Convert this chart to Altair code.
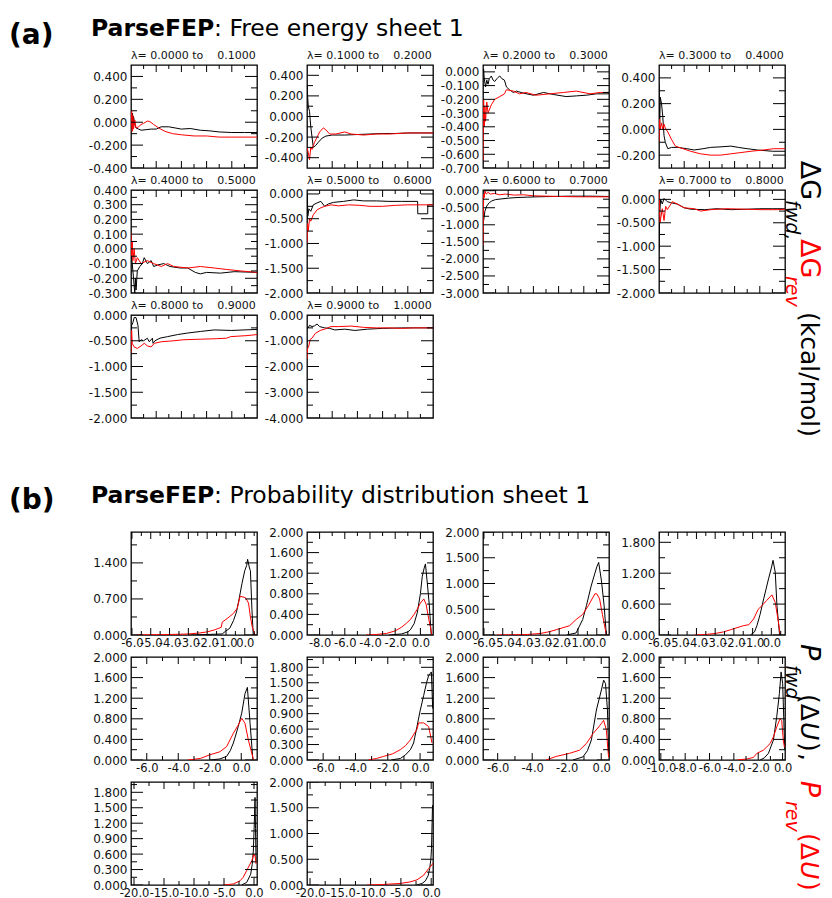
import altair as alt
import pandas as pd

FONT = "DejaVu Sans"
TXT = "#111111"
NB = "\u00a0"
PW, PH = 126, 103
YMAJ_T, YMIN_T, XMAJ_T, XMIN_T = 12, 6, 7, 4

# ---------------- (a) free energy: cumulative dG vs sample (% of window) ----------------
lam_lo = [0.0, 0.1, 0.2, 0.3, 0.4, 0.5, 0.6, 0.7, 0.8, 0.9]
lam_hi = [0.1, 0.2, 0.3, 0.4, 0.5, 0.6, 0.7, 0.8, 0.9, 1.0]
a_xdom = [0, 100]
a_xmaj = [20, 40, 60, 80]
a_xmin = [10, 30, 50, 70, 90]
a_ydom = [[-0.4, 0.5], [-0.5, 0.5], [-0.7, 0.05], [-0.3, 0.5], [-0.3, 0.4],
          [-2.0, 0.08], [-3.0, 0.02], [-2.0, 0.2], [-2.0, 0.0], [-4.0, 0.0]]
a_ymaj = [[-0.4, -0.2, 0.0, 0.2, 0.4], [-0.4, -0.2, 0.0, 0.2, 0.4],
          [-0.7, -0.6, -0.5, -0.4, -0.3, -0.2, -0.1, 0.0], [-0.2, 0.0, 0.2, 0.4],
          [-0.3, -0.2, -0.1, 0.0, 0.1, 0.2, 0.3, 0.4], [-2.0, -1.5, -1.0, -0.5, 0.0],
          [-3.0, -2.5, -2.0, -1.5, -1.0, -0.5, 0.0], [-2.0, -1.5, -1.0, -0.5, 0.0],
          [-2.0, -1.5, -1.0, -0.5, 0.0], [-4.0, -3.0, -2.0, -1.0, 0.0]]
a_ymin = [[-0.3, -0.1, 0.1, 0.3], [-0.3, -0.1, 0.1, 0.3],
          [-0.65, -0.55, -0.45, -0.35, -0.25, -0.15, -0.05], [-0.1, 0.1, 0.3],
          [-0.25, -0.15, -0.05, 0.05, 0.15, 0.25, 0.35], [-1.75, -1.25, -0.75, -0.25],
          [-2.75, -2.25, -1.75, -1.25, -0.75, -0.25], [-1.75, -1.25, -0.75, -0.25],
          [-1.75, -1.25, -0.75, -0.25], [-3.5, -2.5, -1.5, -0.5]]

a1_fwd_x = [0, 0.5, 1, 1.5, 2, 3, 4, 6, 8, 12, 16, 20, 24, 30, 35, 40, 47, 55, 62, 70, 80, 90, 100]
a1_fwd_y = [0.1, -0.05, 0.08, -0.03, 0.05, -0.02, -0.05, -0.06, -0.07, -0.065, -0.06, -0.06, -0.04, -0.04, -0.05, -0.06, -0.055, -0.07, -0.075, -0.085, -0.09, -0.09, -0.09]
a1_rev_x = [0, 0.5, 1, 1.5, 2, 3, 4, 6, 8, 10, 13, 15, 18, 22, 27, 33, 40, 50, 60, 70, 80, 100]
a1_rev_y = [-0.05, 0.1, -0.08, 0.06, -0.06, 0.02, -0.05, -0.04, -0.02, -0.01, 0.01, 0.005, -0.02, -0.05, -0.08, -0.1, -0.11, -0.12, -0.12, -0.13, -0.13, -0.13]

a2_fwd_x = [0, 1, 2, 3, 5, 7, 9, 12, 15, 20, 30, 40, 50, 60, 70, 80, 90, 100]
a2_fwd_y = [0.3, 0.1, 0.05, -0.1, -0.3, -0.28, -0.25, -0.21, -0.19, -0.18, -0.18, -0.175, -0.17, -0.165, -0.165, -0.16, -0.16, -0.16]
a2_rev_x = [0, 1, 2, 3, 4, 6, 8, 10, 13, 15, 18, 23, 30, 35, 45, 55, 65, 80, 100]
a2_rev_y = [-0.3, -0.35, -0.42, -0.3, -0.32, -0.25, -0.2, -0.15, -0.11, -0.13, -0.17, -0.17, -0.15, -0.17, -0.18, -0.17, -0.17, -0.16, -0.16]

a3_fwd_x = [0, 0.5, 1, 2, 3, 4, 5, 6.6, 8, 9.3, 11, 12, 13.3, 15, 17, 18.6, 21, 24, 26.5, 32, 40, 48, 56, 66, 74, 82, 90, 100]
a3_fwd_y = [-0.01, 0.02, -0.05, -0.11, -0.06, -0.09, -0.05, -0.03, -0.06, -0.07, -0.05, -0.04, -0.03, -0.05, -0.06, -0.11, -0.13, -0.15, -0.14, -0.155, -0.17, -0.15, -0.165, -0.18, -0.175, -0.17, -0.16, -0.16]
a3_rev_x = [0, 0.5, 1, 1.5, 2, 3, 4, 6.6, 9.3, 13.3, 17, 18.6, 24, 29, 34, 42, 53, 64, 74, 85, 93, 100]
a3_rev_y = [-0.65, -0.2, -0.4, -0.25, -0.36, -0.22, -0.3, -0.24, -0.2, -0.18, -0.16, -0.13, -0.14, -0.16, -0.15, -0.17, -0.16, -0.15, -0.14, -0.16, -0.15, -0.15]

a4_fwd_x = [0, 0.5, 1, 2, 3, 4, 5, 7, 10, 15, 22, 28, 35, 41, 50, 57, 63, 70, 78, 90, 100]
a4_fwd_y = [0.35, 0.0, 0.25, 0.2, 0.1, -0.05, -0.1, -0.15, -0.14, -0.14, -0.15, -0.16, -0.15, -0.14, -0.135, -0.13, -0.14, -0.15, -0.16, -0.17, -0.17]
a4_rev_x = [0, 0.5, 1, 2, 3, 4, 5, 7, 10, 13, 19, 25, 33, 41, 49, 57, 65, 73, 83, 91, 100]
a4_rev_y = [-0.1, 0.08, 0.0, 0.05, 0.0, 0.04, 0.01, -0.02, -0.08, -0.13, -0.15, -0.17, -0.19, -0.2, -0.2, -0.19, -0.18, -0.17, -0.16, -0.15, -0.15]

a5_fwd_x = [0, 1, 2, 3, 3.5, 4, 5, 7, 9, 10.5, 13, 16, 18, 21, 26, 31, 39, 45, 51, 55, 60, 71, 82, 100]
a5_fwd_y = [0.0, -0.1, -0.2, -0.3, -0.2, -0.28, -0.15, -0.12, -0.1, -0.06, -0.1, -0.08, -0.12, -0.11, -0.1, -0.12, -0.13, -0.13, -0.16, -0.17, -0.16, -0.165, -0.155, -0.16]
a5_rev_x = [0, 0.5, 1, 1.5, 2.5, 3.5, 5, 8, 13, 18, 24, 29, 34, 45, 55, 66, 76, 87, 100]
a5_rev_y = [0.11, -0.05, 0.05, -0.08, 0.0, -0.1, -0.06, -0.1, -0.08, -0.1, -0.12, -0.1, -0.12, -0.13, -0.12, -0.13, -0.14, -0.15, -0.16]

a6_fwd_x = [0, 0.3, 0.6, 1.5, 3, 5, 8, 11, 14, 17, 21, 29, 37, 45, 55, 65, 75, 87.8, 87.9, 95.8, 95.9, 100]
a6_fwd_y = [-0.5, 0.0, -0.45, -0.3, -0.35, -0.22, -0.18, -0.15, -0.25, -0.2, -0.17, -0.15, -0.12, -0.14, -0.14, -0.15, -0.15, -0.15, -0.4, -0.4, -0.22, -0.22]
a6_rev_x = [0, 0.5, 1, 2, 3, 5, 8, 11, 14, 19, 25, 33, 42, 50, 60, 70, 80, 100]
a6_rev_y = [-1.0, -0.6, -0.75, -0.5, -0.55, -0.42, -0.32, -0.28, -0.25, -0.22, -0.24, -0.22, -0.23, -0.25, -0.25, -0.23, -0.22, -0.22]

a7_fwd_x = [0, 1, 1.5, 3, 5, 7, 10, 15, 20, 27, 35, 43, 55, 70, 85, 100]
a7_fwd_y = [-1.0, -0.75, -0.6, -0.45, -0.35, -0.3, -0.26, -0.24, -0.22, -0.2, -0.19, -0.18, -0.17, -0.16, -0.16, -0.17]
a7_rev_x = [0, 0.5, 1, 1.5, 2.5, 4, 6, 9, 13, 18, 25, 32, 40, 50, 60, 75, 90, 100]
a7_rev_y = [-1.6, -0.1, -0.2, 0.0, -0.1, -0.05, -0.1, -0.08, -0.12, -0.1, -0.13, -0.12, -0.15, -0.16, -0.17, -0.18, -0.18, -0.18]

a8_fwd_x = [0, 0.6, 1.3, 2.6, 4, 6.6, 9.3, 14.5, 20, 25, 36, 46, 57, 70, 80, 90, 100]
a8_fwd_y = [-1.1, -0.3, 0.0, -0.1, 0.02, -0.05, -0.07, -0.1, -0.18, -0.21, -0.22, -0.2, -0.22, -0.21, -0.2, -0.2, -0.2]
a8_rev_x = [0, 0.8, 2.6, 4, 5.3, 6.6, 10.6, 14.5, 20, 28, 33, 41, 54, 68, 81, 94, 100]
a8_rev_y = [0.15, -0.5, -0.2, -0.45, -0.15, -0.22, -0.05, -0.1, -0.18, -0.2, -0.25, -0.22, -0.2, -0.21, -0.22, -0.22, -0.21]

a9_fwd_x = [0, 0.5, 1.5, 2.5, 4, 5.5, 6.5, 8, 10, 13, 14.5, 17, 17.5, 19, 23, 29, 37, 45, 55, 66, 80, 100]
a9_fwd_y = [-0.75, -0.2, -0.15, -0.05, -0.05, -0.2, -0.52, -0.48, -0.5, -0.45, -0.52, -0.45, -0.55, -0.5, -0.45, -0.42, -0.38, -0.35, -0.32, -0.29, -0.3, -0.28]
a9_rev_x = [0, 0.5, 1, 2.5, 5, 8, 10.5, 13, 16, 18.5, 24, 34, 42, 55, 68, 76, 79, 92, 100]
a9_rev_y = [-0.75, -0.3, -0.55, -0.62, -0.65, -0.6, -0.55, -0.6, -0.62, -0.55, -0.52, -0.5, -0.48, -0.47, -0.46, -0.45, -0.42, -0.4, -0.38]

a10_fwd_x = [0, 1, 2, 4, 6, 8, 10, 14, 18, 22, 30, 38, 48, 60, 75, 90, 100]
a10_fwd_y = [-0.45, -0.5, -0.4, -0.45, -0.42, -0.35, -0.45, -0.5, -0.52, -0.58, -0.55, -0.6, -0.55, -0.52, -0.5, -0.5, -0.5]
a10_rev_x = [0, 0.5, 1.5, 2.5, 4, 6.5, 10.5, 14, 19, 25, 35, 45, 55, 65, 75, 85, 100]
a10_rev_y = [-1.7, -1.3, -1.2, -0.95, -0.9, -0.72, -0.6, -0.55, -0.45, -0.45, -0.43, -0.48, -0.5, -0.5, -0.52, -0.5, -0.5]

# ---------------- (b) probability distributions P(dU) ----------------
b_xdom = [[-6.05, 0.65], [-9.0, 1.0], [-6.05, 0.65], [-6.0, 0.73], [-7.0, 1.0],
          [-7.0, 0.8], [-6.85, 0.45], [-10.15, 0.2], [-20.5, 0.5], [-20.5, 0.3]]
b_xmaj = [[-6, -5, -4, -3, -2, -1, 0], [-8, -6, -4, -2, 0], [-6, -5, -4, -3, -2, -1, 0],
          [-6, -5, -4, -3, -2, -1, 0, 1], [-6, -4, -2, 0], [-6, -4, -2, 0], [-6, -4, -2, 0],
          [-10, -8, -6, -4, -2, 0], [-20, -15, -10, -5, 0], [-20, -15, -10, -5, 0]]
b_xmin = [[-5.5, -4.5, -3.5, -2.5, -1.5, -0.5, 0.5], [-7, -5, -3, -1],
          [-5.5, -4.5, -3.5, -2.5, -1.5, -0.5, 0.5], [-5.5, -4.5, -3.5, -2.5, -1.5, -0.5, 0.5],
          [-5, -3, -1], [-5, -3, -1], [-5, -3, -1], [-9, -7, -5, -3, -1],
          [-17.5, -12.5, -7.5, -2.5], [-17.5, -12.5, -7.5, -2.5]]
y_04 = [0.0, 0.4, 0.8, 1.2, 1.6, 2.0]
y_04m = [0.2, 0.6, 1.0, 1.4, 1.8]
y_03 = [0.0, 0.3, 0.6, 0.9, 1.2, 1.5, 1.8]
y_03m = [0.15, 0.45, 0.75, 1.05, 1.35, 1.65, 1.95]
y_05 = [0.0, 0.5, 1.0, 1.5, 2.0]
y_05m = [0.25, 0.75, 1.25, 1.75]
b_ymaj = [[0.0, 0.7, 1.4], y_04, y_05, [0.0, 0.6, 1.2, 1.8], y_04, y_03, y_04, y_04, y_03, y_05]
b_ymin = [[0.35, 1.05, 1.75], y_04m, y_05m, [0.3, 0.9, 1.5], y_04m, y_03m, y_04m, y_04m, y_03m, y_05m]

b1_fwd_x = [-3.0, -2.0, -1.2, -1.0, -0.8, -0.6, -0.44, -0.3, -0.15, 0.0, 0.1, 0.15, 0.25, 0.3, 0.38, 0.45]
b1_fwd_y = [0.0, 0.01, 0.02, 0.08, 0.13, 0.28, 0.45, 0.7, 1.0, 1.25, 1.35, 1.47, 1.3, 1.25, 0.5, 0.0]
b1_rev_x = [-5.8, -5.0, -4.0, -3.0, -2.4, -2.0, -1.6, -1.25, -1.2, -0.9, -0.6, -0.4, -0.25, -0.1, 0.05, 0.2, 0.3, 0.4, 0.55]
b1_rev_y = [0.0, 0.005, 0.01, 0.02, 0.04, 0.06, 0.1, 0.15, 0.25, 0.33, 0.42, 0.52, 0.75, 0.74, 0.72, 0.62, 0.35, 0.15, 0.0]

b2_fwd_x = [-2.5, -1.5, -1.0, -0.8, -0.5, -0.25, 0.0, 0.15, 0.3, 0.4, 0.55, 0.7, 0.86]
b2_fwd_y = [0.0, 0.02, 0.06, 0.1, 0.22, 0.43, 0.8, 1.14, 1.3, 1.38, 1.0, 0.6, 0.0]
b2_rev_x = [-4.3, -3.5, -2.7, -2.0, -1.5, -1.1, -0.8, -0.5, -0.25, 0.0, 0.27, 0.45, 0.67, 0.8, 0.9]
b2_rev_y = [0.0, 0.01, 0.03, 0.08, 0.15, 0.23, 0.3, 0.4, 0.5, 0.62, 0.7, 0.6, 0.3, 0.15, 0.0]

b3_fwd_x = [-1.6, -1.1, -0.75, -0.55, -0.3, -0.1, 0.0, 0.1, 0.25, 0.39, 0.51]
b3_fwd_y = [0.0, 0.04, 0.3, 0.57, 0.95, 1.2, 1.32, 1.41, 1.05, 0.57, 0.0]
b3_rev_x = [-5.3, -4.5, -3.7, -3.0, -2.5, -1.9, -1.45, -1.1, -0.75, -0.45, -0.1, 0.0, 0.15, 0.3, 0.51]
b3_rev_y = [0.0, 0.005, 0.01, 0.03, 0.066, 0.13, 0.18, 0.3, 0.4, 0.57, 0.8, 0.8, 0.7, 0.4, 0.0]

b4_fwd_x = [-1.12, -0.9, -0.77, -0.6, -0.41, -0.15, 0.0, 0.09, 0.21, 0.3, 0.44]
b4_fwd_y = [0.0, 0.06, 0.18, 0.4, 0.7, 1.09, 1.3, 1.45, 1.22, 0.57, 0.0]
b4_rev_x = [-4.1, -3.5, -3.0, -2.55, -2.2, -1.5, -1.2, -0.95, -0.7, -0.5, -0.25, 0.03, 0.21, 0.38, 0.48]
b4_rev_y = [0.0, 0.01, 0.03, 0.06, 0.1, 0.18, 0.2, 0.31, 0.5, 0.57, 0.67, 0.78, 0.63, 0.25, 0.0]

b5_fwd_x = [-2.0, -1.36, -0.93, -0.7, -0.5, -0.19, 0.03, 0.24, 0.39, 0.56, 0.74]
b5_fwd_y = [0.0, 0.02, 0.07, 0.18, 0.33, 0.65, 0.91, 1.29, 1.41, 0.71, 0.0]
b5_rev_x = [-3.4, -2.6, -2.0, -1.36, -0.93, -0.5, -0.19, 0.03, 0.24, 0.45, 0.78]
b5_rev_y = [0.0, 0.03, 0.1, 0.16, 0.26, 0.52, 0.68, 0.81, 0.71, 0.39, 0.0]

b6_fwd_x = [-1.8, -1.22, -0.9, -0.6, -0.4, -0.19, 0.0, 0.22, 0.4, 0.53, 0.7, 0.78]
b6_fwd_y = [0.0, 0.03, 0.1, 0.2, 0.33, 0.65, 0.95, 1.25, 1.5, 1.64, 1.71, 1.0]
b6_rev_x = [-3.2, -2.7, -2.26, -1.7, -1.22, -0.9, -0.6, -0.19, -0.09, 0.22, 0.53, 0.74]
b6_rev_y = [0.0, 0.03, 0.07, 0.12, 0.2, 0.28, 0.39, 0.6, 0.72, 0.72, 0.65, 0.33]

b7_fwd_x = [-1.64, -1.06, -0.8, -0.57, -0.28, 0.01, 0.14, 0.25, 0.36, 0.43]
b7_fwd_y = [0.0, 0.06, 0.18, 0.39, 0.97, 1.36, 1.55, 1.48, 0.97, 0.13]
b7_rev_x = [-3.2, -2.6, -1.83, -1.26, -0.86, -0.48, -0.2, 0.01, 0.14, 0.3, 0.39, 0.43]
b7_rev_y = [0.0, 0.07, 0.13, 0.19, 0.32, 0.51, 0.62, 0.71, 0.77, 0.58, 0.19, 0.05]

b8_fwd_x = [-1.85, -1.5, -1.16, -0.75, -0.48, -0.26, -0.12, 0.01, 0.12, 0.18]
b8_fwd_y = [0.0, 0.04, 0.13, 0.39, 0.84, 1.29, 1.71, 1.48, 0.64, 0.2]
b8_rev_x = [-3.75, -2.93, -2.4, -2.11, -1.57, -1.02, -0.75, -0.48, -0.21, -0.07, 0.06, 0.15]
b8_rev_y = [0.0, 0.02, 0.05, 0.13, 0.19, 0.32, 0.45, 0.64, 0.8, 0.77, 0.39, 0.25]

b9_fwd_x = [-2.06, -1.22, -0.55, -0.3, -0.11, 0.05, 0.17, 0.25, 0.34]
b9_fwd_y = [0.0, 0.05, 0.21, 0.4, 0.66, 1.2, 1.7, 1.1, 0.47]
b9_rev_x = [-5.15, -4.2, -3.47, -2.35, -1.8, -1.22, -0.38, 0.0, 0.2, 0.34]
b9_rev_y = [0.0, 0.01, 0.02, 0.08, 0.15, 0.28, 0.47, 0.6, 0.55, 0.41]

b10_fwd_x = [-2.4, -1.5, -0.96, -0.5, -0.25, -0.05, 0.05, 0.15, 0.22]
b10_fwd_y = [0.0, 0.03, 0.08, 0.18, 0.32, 0.5, 0.71, 1.2, 1.55]
b10_rev_x = [-10.6, -8.0, -5.1, -3.5, -2.34, -1.24, -0.42, 0.0, 0.25]
b10_rev_y = [0.0, 0.01, 0.03, 0.06, 0.1, 0.19, 0.32, 0.37, 0.42]

# ---------------- headings and side labels ----------------
title_a_text = ["(a)", "ParseFEP", ": Free energy sheet 1"]
title_b_text = ["(b)", "ParseFEP", ": Probability distribution sheet 1"]
title_x = [-122, -40, 83]
title_a_y = [31.7, 24, 24]
title_b_y = [68.7, 63.3, 63.3]
title_size = [28, 23.5, 23.5]
title_bold = [True, True, False]

label_a_text = ["\u0394G", "fwd,", "\u0394G", "rev", "(kcal/mol)"]
label_a_x = [142, 127, 142, 127, 142]
label_a_y = [148.7, 188, 227, 264, 300]
label_a_size = [27, 19, 27, 19, 25]
label_a_color = ["black", "black", "red", "red", "black"]
label_a_italic = [False, True, False, True, False]

label_b_text = ["P", "fwd", "(\u0394", "U", ")", ",", "P", "rev", "(\u0394", "U", ")"]
label_b_x = [142, 127, 142, 142, 142, 142, 142, 127, 142, 142, 142]
label_b_y = [204, 225, 254, 282, 302, 313, 340.7, 361, 393, 421, 441]
label_b_size = [27, 19, 25, 25, 25, 25, 27, 19, 25, 25, 25]
label_b_color = ["black"] * 6 + ["red"] * 5
label_b_italic = [True, True, False, True, False, False, True, True, False, True, False]

LE_Y = "replace(format(datum.value, '.3f'), '\u2212', '-')"
LE_X = "replace(format(datum.value, '.1f'), '\u2212', '-')"
NOVIEW = alt.ViewBackground(stroke="transparent")


def panel(fx, fy, rx, ry, xdom, ydom, xmaj, xmin, ymaj, ymin, title=None, xlabels=False):
    dff = pd.DataFrame({"x": fx, "y": fy})
    dfr = pd.DataFrame({"x": rx, "y": ry})
    xs = alt.Scale(domain=xdom, nice=False, zero=False)
    ys = alt.Scale(domain=ydom, nice=False, zero=False)

    ylab = alt.Axis(orient="left", values=ymaj, ticks=False, domain=False, grid=False,
                    labelExpr=LE_Y, labelFont=FONT, labelFontSize=12, labelColor=TXT,
                    labelPadding=4, labelOverlap=False, labelFlush=False, title=None)
    if xlabels:
        xlab = alt.Axis(orient="bottom", values=xmaj, ticks=False, domain=False, grid=False,
                        labelExpr=LE_X, labelFont=FONT, labelFontSize=11.5, labelColor=TXT,
                        labelPadding=2, labelOverlap=False, labelFlush=False, title=None)
    else:
        xlab = None

    layers = [
        alt.Chart(dff).mark_line(color="black", strokeWidth=1, clip=True).encode(
            x=alt.X("x:Q", scale=xs, axis=xlab), y=alt.Y("y:Q", scale=ys, axis=ylab)),
        alt.Chart(dfr).mark_line(color="#ff0000", strokeWidth=1, clip=True).encode(
            x=alt.X("x:Q", scale=xs, axis=None), y=alt.Y("y:Q", scale=ys, axis=None)),
    ]
    # inward tick marks on all four sides (tick values drawn through the panel scales)
    for vals, ln in ((ymaj, YMAJ_T), (ymin, YMIN_T)):
        tdf = pd.DataFrame({"v": vals})
        for x0, x1 in ((0, ln), (PW - ln, PW)):
            layers.append(alt.Chart(tdf).mark_rule(color="black", strokeWidth=1, clip=True).encode(
                y=alt.Y("v:Q", scale=ys, axis=None), x=alt.value(x0), x2=alt.value(x1)))
    for vals, ln in ((xmaj, XMAJ_T), (xmin, XMIN_T)):
        tdf = pd.DataFrame({"v": vals})
        for y0, y1 in ((0, ln), (PH - ln, PH)):
            layers.append(alt.Chart(tdf).mark_rule(color="black", strokeWidth=1, clip=True).encode(
                x=alt.X("v:Q", scale=xs, axis=None), y=alt.value(y0), y2=alt.value(y1)))
    if title is not None:
        layers.append(
            alt.Chart(pd.DataFrame({"t": [title]})).mark_text(
                align="left", baseline="alphabetic", font=FONT, fontSize=11, color=TXT
            ).encode(x=alt.value(0), y=alt.value(-6), text="t:N"))
    return alt.layer(*layers).resolve_axis(x="independent", y="independent").properties(
        width=PW, height=PH)


def text_chart(texts, xs, ys, sizes, colors, flags, flag_kw, other_kw, angle, w, h):
    df = pd.DataFrame({"t": texts, "x": xs, "y": ys, "s": sizes, "c": colors, "f": flags})
    enc = dict(x=alt.X("x:Q", scale=None, axis=None), y=alt.Y("y:Q", scale=None, axis=None),
               text=alt.Text("t:N"), size=alt.Size("s:Q", scale=None, legend=None),
               color=alt.Color("c:N", scale=None, legend=None))
    parts = []
    for sub, kw in ((df[df["f"]], flag_kw), (df[~df["f"]], other_kw)):
        if len(sub):
            parts.append(alt.Chart(sub.drop(columns=["f"])).mark_text(
                align="left", baseline="alphabetic", font=FONT, angle=angle, **kw).encode(**enc))
    return alt.layer(*parts).properties(width=w, height=h, view=NOVIEW)


def blank():
    return alt.Chart(pd.DataFrame({"v": [0]})).mark_point(opacity=0).encode(
        x=alt.value(0), y=alt.value(0)).properties(width=10, height=1, view=NOVIEW)


a_data = [(a1_fwd_x, a1_fwd_y, a1_rev_x, a1_rev_y), (a2_fwd_x, a2_fwd_y, a2_rev_x, a2_rev_y),
          (a3_fwd_x, a3_fwd_y, a3_rev_x, a3_rev_y), (a4_fwd_x, a4_fwd_y, a4_rev_x, a4_rev_y),
          (a5_fwd_x, a5_fwd_y, a5_rev_x, a5_rev_y), (a6_fwd_x, a6_fwd_y, a6_rev_x, a6_rev_y),
          (a7_fwd_x, a7_fwd_y, a7_rev_x, a7_rev_y), (a8_fwd_x, a8_fwd_y, a8_rev_x, a8_rev_y),
          (a9_fwd_x, a9_fwd_y, a9_rev_x, a9_rev_y), (a10_fwd_x, a10_fwd_y, a10_rev_x, a10_rev_y)]
b_data = [(b1_fwd_x, b1_fwd_y, b1_rev_x, b1_rev_y), (b2_fwd_x, b2_fwd_y, b2_rev_x, b2_rev_y),
          (b3_fwd_x, b3_fwd_y, b3_rev_x, b3_rev_y), (b4_fwd_x, b4_fwd_y, b4_rev_x, b4_rev_y),
          (b5_fwd_x, b5_fwd_y, b5_rev_x, b5_rev_y), (b6_fwd_x, b6_fwd_y, b6_rev_x, b6_rev_y),
          (b7_fwd_x, b7_fwd_y, b7_rev_x, b7_rev_y), (b8_fwd_x, b8_fwd_y, b8_rev_x, b8_rev_y),
          (b9_fwd_x, b9_fwd_y, b9_rev_x, b9_rev_y), (b10_fwd_x, b10_fwd_y, b10_rev_x, b10_rev_y)]

a_panels = []
for i, (fx, fy, rx, ry) in enumerate(a_data):
    t = "\u03bb= " + f"{lam_lo[i]:.4f}" + " to" + NB * 4 + f"{lam_hi[i]:.4f}"
    a_panels.append(panel(fx, fy, rx, ry, a_xdom, a_ydom[i], a_xmaj, a_xmin,
                          a_ymaj[i], a_ymin[i], title=t))
b_panels = []
for i, (fx, fy, rx, ry) in enumerate(b_data):
    b_panels.append(panel(fx, fy, rx, ry, b_xdom[i], [0.0, 2.0], b_xmaj[i], b_xmin[i],
                          b_ymaj[i], b_ymin[i], xlabels=True))

title_a = text_chart(title_a_text, title_x, title_a_y, title_size, ["black"] * 3, title_bold,
                     {"fontWeight": "bold"}, {"fontWeight": "normal"}, 0, PW, 31)
title_b = text_chart(title_b_text, title_x, title_b_y, title_size, ["black"] * 3, title_bold,
                     {"fontWeight": "bold"}, {"fontWeight": "normal"}, 0, PW, 70)
label_a = text_chart(label_a_text, label_a_x, label_a_y, label_a_size, label_a_color,
                     label_a_italic, {"fontStyle": "italic"}, {"fontStyle": "normal"}, 90, 10, 1)
label_b = text_chart(label_b_text, label_b_x, label_b_y, label_b_size, label_b_color,
                     label_b_italic, {"fontStyle": "italic"}, {"fontStyle": "normal"}, 90, 10, 1)

cells = [title_a, blank(), blank(), label_a,
         *a_panels[0:4],
         *a_panels[4:8],
         a_panels[8], a_panels[9], blank(), blank(),
         title_b, blank(), blank(), label_b,
         *b_panels[0:4],
         *b_panels[4:8],
         b_panels[8], b_panels[9], blank(), blank()]

chart = alt.concat(*cells, columns=4, spacing=alt.RowColnumber(row=22, column=50),
                   bounds="flush", align="each").properties(padding=0).configure(
    font=FONT).configure_view(stroke="black", strokeWidth=1.3)

chart.save("out.html", embed_options={"renderer": "svg", "actions": False})
